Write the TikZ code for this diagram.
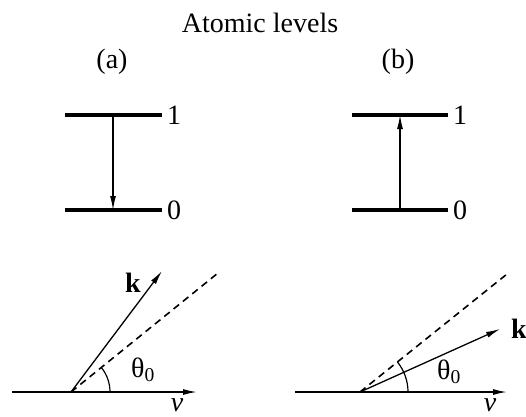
\documentclass[tikz,border=0pt]{standalone}
\usepackage{fontspec}
\setmainfont{Liberation Serif}
\usetikzlibrary{arrows.meta}
\begin{document}
\begin{tikzpicture}[x=1pt,y=-1pt,
  font=\fontsize{28}{32}\selectfont,
  level/.style={line width=3.2pt},
  trans/.style={line width=1.2pt,-{Latex[length=14pt,width=6pt]}},
  axis/.style={line width=1.5pt,-{Latex[length=14pt,width=6pt]}},
  kvec/.style={line width=1.3pt,-{Latex[length=14pt,width=6pt]}},
  dashline/.style={line width=1.6pt,dash pattern=on 7pt off 5pt},
  anglearc/.style={line width=1.2pt},
  lbl/.style={inner sep=0pt}]
\useasboundingbox (0,0) rectangle (526,416);
\node[lbl] (title) at (260,23) {Atomic levels};
\node[lbl] (la) at (112,62) {(a)};
\node[lbl] (lb) at (398,62) {(b)};
% (a) levels
\coordinate (a1l) at (65,115); \coordinate (a1r) at (162,115);
\coordinate (a0l) at (65,210); \coordinate (a0r) at (162,210);
\draw[level] (a1l) -- (a1r);
\draw[level] (a0l) -- (a0r);
\node[lbl] (a1) at (174,115) {1};
\node[lbl] (a0) at (174,210) {0};
\coordinate (atop) at (113,115); \coordinate (abot) at (113,210);
\draw[trans] (atop) -- (abot);
% (b) levels
\coordinate (b1l) at (352,115); \coordinate (b1r) at (448,115);
\coordinate (b0l) at (352,210); \coordinate (b0r) at (448,210);
\draw[level] (b1l) -- (b1r);
\draw[level] (b0l) -- (b0r);
\node[lbl] (b1) at (460,115) {1};
\node[lbl] (b0) at (460,210) {0};
\coordinate (btop) at (400,115); \coordinate (bbot) at (400,210);
\draw[trans] (bbot) -- (btop);
% bottom left
\coordinate (O1) at (71,392);
\coordinate (ax1s) at (12,392); \coordinate (ax1e) at (197,392);
\coordinate (k1) at (162,271); \coordinate (d1) at (218,273);
\draw[axis] (ax1s) -- (ax1e);
\draw[kvec] (O1) -- (k1);
\draw[dashline] (O1) -- (d1);
\draw[anglearc] (O1) ++(39,0) arc[start angle=0,end angle=-39,radius=39];
\node[lbl] (t1) at (143,370) {θ\textsubscript{0}};
\node[lbl] (kl1) at (133,283) {\textbf{k}};
\node[lbl] (v1) at (177,405) {\textit{v}};
% bottom right
\coordinate (O2) at (360,392);
\coordinate (ax2s) at (295,392); \coordinate (ax2e) at (507,392);
\coordinate (k2) at (500,329); \coordinate (d2) at (507,274);
\draw[axis] (ax2s) -- (ax2e);
\draw[kvec] (O2) -- (k2);
\draw[dashline] (O2) -- (d2);
\draw[anglearc] (O2) ++(48,0) arc[start angle=0,end angle=-39,radius=48];
\node[lbl] (t2) at (449,372) {θ\textsubscript{0}};
\node[lbl] (kl2) at (519,329) {\textbf{k}};
\node[lbl] (v2) at (490,405) {\textit{v}};
\end{tikzpicture}
\end{document}
